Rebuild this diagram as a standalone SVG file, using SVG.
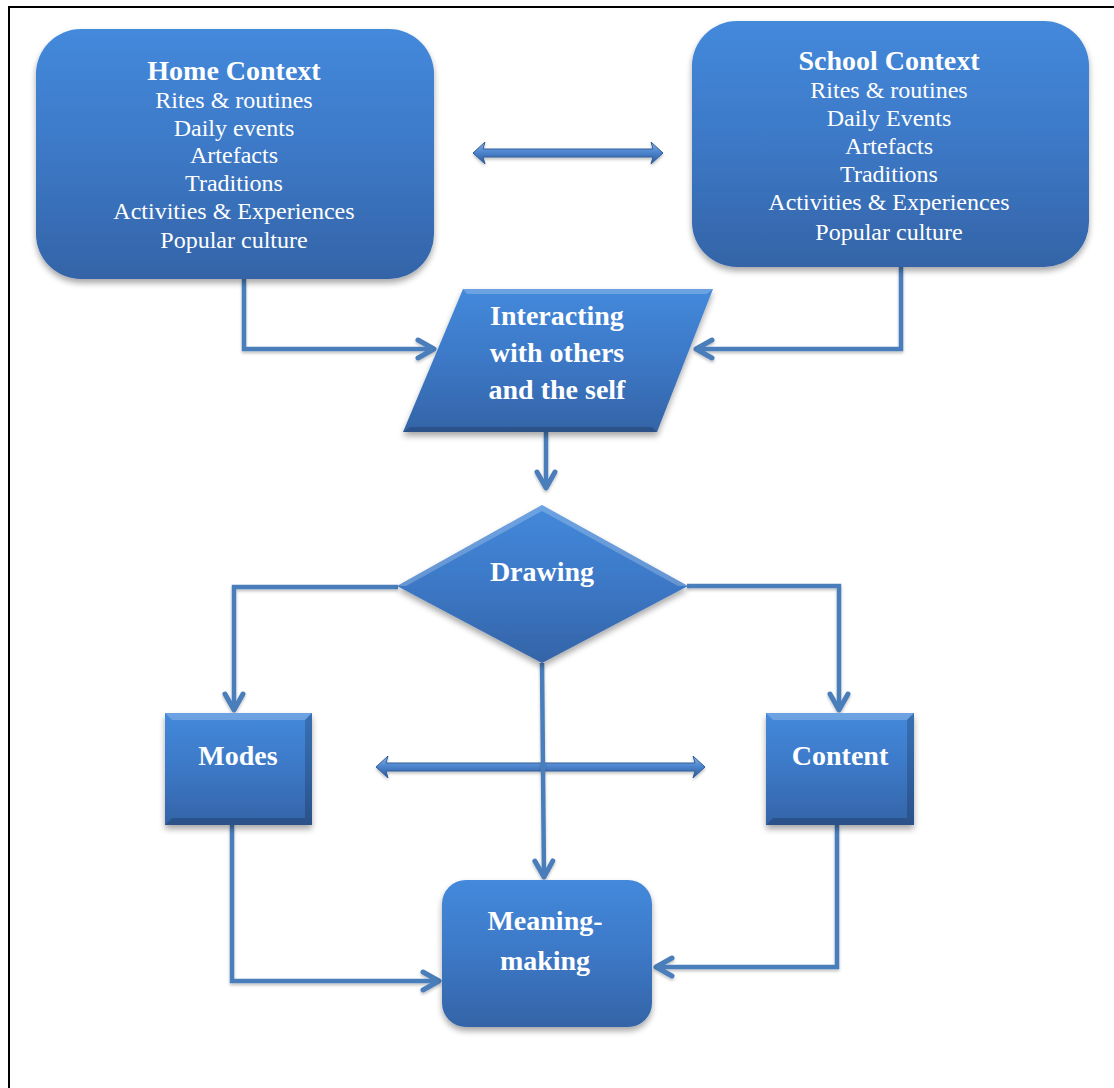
<svg xmlns="http://www.w3.org/2000/svg" width="1114" height="1088" viewBox="0 0 1114 1088">
  <defs>
    <linearGradient id="gBox" x1="0" y1="0" x2="0" y2="1">
      <stop offset="0" stop-color="#4489DB"/>
      <stop offset="0.5" stop-color="#3C78C6"/>
      <stop offset="1" stop-color="#3464A7"/>
    </linearGradient>
    <linearGradient id="gArr" x1="0" y1="0" x2="0" y2="1">
      <stop offset="0" stop-color="#8DB4E6"/>
      <stop offset="0.45" stop-color="#4E86CF"/>
      <stop offset="1" stop-color="#2B5794"/>
    </linearGradient>
    <filter id="sh" x="-15%" y="-15%" width="130%" height="140%">
      <feGaussianBlur in="SourceAlpha" stdDeviation="3"/>
      <feOffset dy="4"/>
      <feComponentTransfer><feFuncA type="linear" slope="0.35"/></feComponentTransfer>
      <feMerge><feMergeNode/><feMergeNode in="SourceGraphic"/></feMerge>
    </filter>
    <filter id="shl" filterUnits="userSpaceOnUse" x="0" y="0" width="1114" height="1088">
      <feGaussianBlur in="SourceAlpha" stdDeviation="1.5"/>
      <feOffset dy="2"/>
      <feComponentTransfer><feFuncA type="linear" slope="0.25"/></feComponentTransfer>
      <feMerge><feMergeNode/><feMergeNode in="SourceGraphic"/></feMerge>
    </filter>
    <marker id="ah" markerUnits="userSpaceOnUse" markerWidth="30" markerHeight="30" viewBox="-20 -15 30 30" refX="0" refY="0" orient="auto">
      <path d="M-16,-9 L0,0 L-16,9" fill="none" stroke="#4A7EBB" stroke-width="5" stroke-linecap="round" stroke-linejoin="round"/>
    </marker>
  </defs>
  <style>
    .box { fill: url(#gBox); filter: url(#sh); }
    .t { font-family: "Liberation Serif", "Times New Roman", serif; fill: #ffffff; text-anchor: middle; }
    .ttl { font-size: 28px; font-weight: bold; }
    .itm { font-size: 24px; }
    .conn { fill: none; stroke: #4A7EBB; stroke-width: 4.5; stroke-linejoin: miter; marker-end: url(#ah); }
    .dbl { fill: url(#gArr); stroke: #2F5E9C; stroke-width: 1; filter: url(#shl); }
    .bl { fill: #ffffff; opacity: 0.22; }
    .bd { fill: #000000; opacity: 0.18; }
  </style>

  <rect x="0" y="0" width="1114" height="1088" fill="#ffffff"/>
  <path d="M9,1088 V7 H1114" fill="none" stroke="#000000" stroke-width="2"/>

  <g id="connectors" filter="url(#shl)">
    <path class="conn" d="M244,279 V349 H434"/>
    <path class="conn" d="M901,267 V349 H696"/>
    <path class="conn" d="M546,432 V488"/>
    <path class="conn" d="M398,587 H234 V710"/>
    <path class="conn" d="M687,586 H839 V710"/>
    <path class="conn" d="M232,825 V981 H439"/>
    <path class="conn" d="M837,825 V967 H656"/>
  </g>

  <g id="arrow-top">
    <polygon class="dbl" points="473,153 485,142 483,149 653,149 651,142 663,153 651,164 653,157 483,157 485,164"/>
  </g>
  <g id="arrow-mid">
    <polygon class="dbl" points="376,767 388,756 386,763 695,763 693,756 705,767 693,778 695,771 386,771 388,778"/>
  </g>

  <g id="connector-drawing-meaning" filter="url(#shl)">
    <path class="conn" d="M542,663 L544,877"/>
  </g>

  <g id="home-context">
    <rect class="box" x="36" y="29" width="398" height="250" rx="45" ry="45"/>
    <text class="t ttl" x="234" y="80">Home Context</text>
    <text class="t itm" x="234" y="108">Rites &amp; routines</text>
    <text class="t itm" x="234" y="136">Daily events</text>
    <text class="t itm" x="234" y="163">Artefacts</text>
    <text class="t itm" x="234" y="191">Traditions</text>
    <text class="t itm" x="234" y="219">Activities &amp; Experiences</text>
    <text class="t itm" x="234" y="248">Popular culture</text>
  </g>

  <g id="school-context">
    <rect class="box" x="692" y="21" width="397" height="246" rx="45" ry="45"/>
    <text class="t ttl" x="889" y="70">School Context</text>
    <text class="t itm" x="889" y="98">Rites &amp; routines</text>
    <text class="t itm" x="889" y="126">Daily Events</text>
    <text class="t itm" x="889" y="154">Artefacts</text>
    <text class="t itm" x="889" y="182">Traditions</text>
    <text class="t itm" x="889" y="210">Activities &amp; Experiences</text>
    <text class="t itm" x="889" y="240">Popular culture</text>
  </g>

  <g id="interacting">
    <polygon class="box" points="463,289 713,289 657,432 403,432"/>
    <polygon class="bl" points="463,289 713,289 707,294 467,294"/>
    <polygon class="bd" points="403,432 657,432 652,427 410,427"/>
    <text class="t ttl" x="557" y="325">Interacting</text>
    <text class="t ttl" x="557" y="362">with others</text>
    <text class="t ttl" x="557" y="399">and the self</text>
  </g>

  <g id="drawing">
    <polygon class="box" points="542,505 688,586 542,663 397,586"/>
    <polygon class="bl" points="542,505 688,586 678,586 542,511 406,586 397,586"/>
    <text class="t ttl" x="542" y="581">Drawing</text>
  </g>

  <g id="modes">
    <rect class="box" x="165" y="713" width="147" height="112"/>
    <polygon class="bl" points="165,713 312,713 305,720 172,720"/>
    <polygon class="bd" points="165,825 312,825 305,818 172,818"/>
    <polygon class="bd" points="312,713 312,825 305,818 305,720" opacity="0.1"/>
    <text class="t ttl" x="238" y="765">Modes</text>
  </g>

  <g id="content">
    <rect class="box" x="766" y="713" width="148" height="112"/>
    <polygon class="bl" points="766,713 914,713 907,720 773,720"/>
    <polygon class="bd" points="766,825 914,825 907,818 773,818"/>
    <polygon class="bd" points="914,713 914,825 907,818 907,720" opacity="0.1"/>
    <text class="t ttl" x="840" y="765">Content</text>
  </g>

  <g id="meaning-making">
    <rect class="box" x="442" y="880" width="210" height="147" rx="24" ry="24"/>
    <text class="t ttl" x="545" y="930">Meaning-</text>
    <text class="t ttl" x="545" y="970">making</text>
  </g>
</svg>
